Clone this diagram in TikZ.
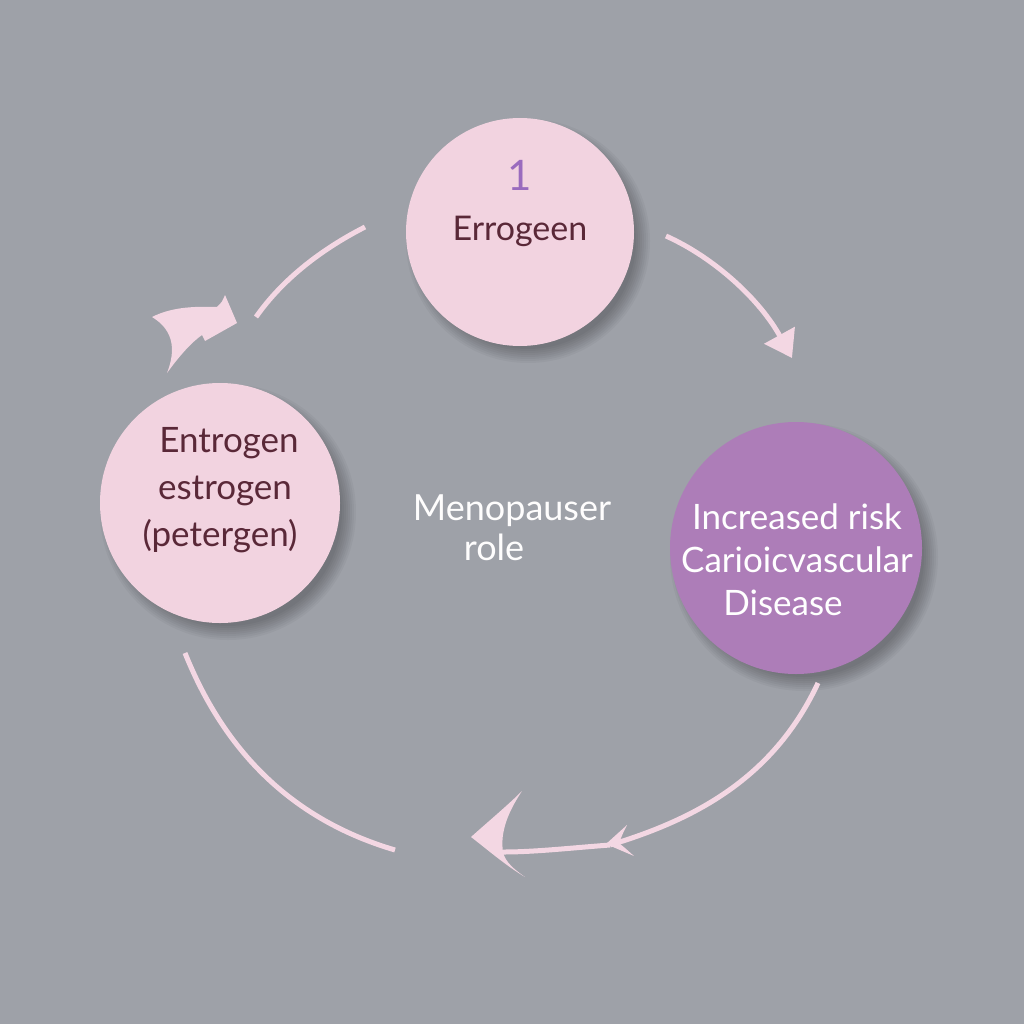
\documentclass[tikz,border=0pt]{standalone}
\usepackage{fontspec}
\setmainfont{Lato}
\usetikzlibrary{arrows.meta}
\definecolor{bg}{HTML}{9EA1A8}
\definecolor{pinkc}{HTML}{F2D3E0}
\definecolor{purpc}{HTML}{AD7DB8}
\definecolor{maroon}{HTML}{5A2838}
\definecolor{numpurp}{HTML}{9A6BBE}
\definecolor{arrowc}{HTML}{F3D7E3}
\tikzset{
  bubble/.style={circle, inner sep=0pt, align=center},
  conn/.style={draw=arrowc, line width=5pt, line cap=butt},
  headfill/.style={fill=arrowc, draw=none},
}
\newcommand{\softshadow}[3]{%
  \foreach \k in {0,...,7} {
    \fill[black, opacity=0.035] (#1+8,#2+9) circle ({#3+8-2*\k});
  }
}
\begin{document}
\begin{tikzpicture}[x=1pt,y=-1pt]
\useasboundingbox (0,0) rectangle (1024,1024);
\fill[bg] (0,0) rectangle (1024,1024);

% shadows
\softshadow{520}{232}{114}
\softshadow{220}{503}{120}
\softshadow{796}{548}{126}

% circles
\node[bubble, fill=pinkc, minimum size=228pt] (top) at (520,232) {};
\node[bubble, fill=pinkc, minimum size=240pt] (left) at (220,503) {};
\node[bubble, fill=purpc, minimum size=252pt] (right) at (796,548) {};

% texts
\node[text=numpurp, font=\fontsize{42}{42}\selectfont] (num) at (520,175) {1};
\node[text=maroon, font=\fontsize{34}{34}\selectfont] (toptxt) at (520,231) {Errogeen};
\node[text=maroon, font=\fontsize{35}{47}\selectfont, align=center] (lefttxt) at (220,490)
  {\hspace*{18pt}Entrogen\\ \hspace*{10pt}estrogen\\ (petergen)};
\node[text=white, font=\fontsize{35}{43}\selectfont, align=center] (righttxt) at (797,560)
  {Increased risk\\ Carioicvascular\\ \hspace*{-28pt}Disease};
\node[text=white!95!pinkc, font=\fontsize{36}{40}\selectfont, align=center] (center) at (512,528)
  {Menopauser\\ \hspace*{-36pt}role};

% connector coordinates
\coordinate (a1s) at (666,236);
\coordinate (a1e) at (792,358);
\coordinate (a2s) at (365,227);
\coordinate (a2e) at (256,317);
\coordinate (a3s) at (818,683);
\coordinate (a3m) at (610,845);
\coordinate (a3e) at (503,852);
\coordinate (a4s) at (185,653);
\coordinate (a4e) at (395,850);

% top-right arrow
\draw[conn, -{Triangle[width=34pt,length=26pt,fill=arrowc]}] (a1s) .. controls (715,258) and (760,300) .. (a1e);

% top-left line
\draw[conn] (a2s) .. controls (320,250) and (282,280) .. (a2e);
% top-left big arrowhead blob
\fill[headfill] (237,323) -- (225,295) .. controls (222,302) .. (217,307)
  .. controls (190,306) and (170,308) .. (152,317)
  .. controls (165,325) and (180,340) .. (167,373)
  .. controls (180,355) and (192,342) .. (202,335)
  -- (205,341) -- cycle;

% bottom-right arrow
\draw[conn] (a3s) .. controls (775,775) and (700,818) .. (a3m);
\fill[headfill] (606,844) -- (627,825) .. controls (623,833) .. (619,843)
  .. controls (625,848) .. (634,856) -- cycle;
\draw[conn] (a3m) .. controls (570,848) and (535,852) .. (a3e);
% big bottom arrowhead
\fill[headfill] (471,837) .. controls (490,820) and (508,805) .. (522,791)
  .. controls (508,812) and (500,832) .. (503,852)
  .. controls (505,862) and (515,870) .. (525,877)
  .. controls (505,865) and (488,850) .. cycle;

% bottom-left arc
\draw[conn] (a4s) .. controls (228,760) and (300,822) .. (a4e);
\end{tikzpicture}
\end{document}
